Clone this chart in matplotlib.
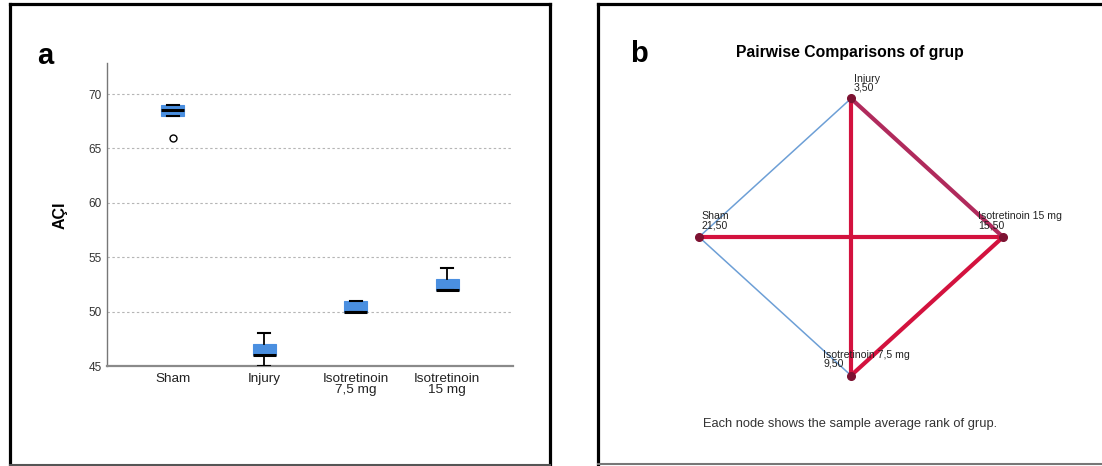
import matplotlib
matplotlib.use("Agg")

import numpy as np
import matplotlib.pyplot as plt
from matplotlib.lines import Line2D

plt.rcParams["font.family"] = ["Liberation Sans", "DejaVu Sans"]

# ---- panel a: box plot of angle per group ----
groups = ["Sham", "Injury", "Isotretinoin\n7,5 mg", "Isotretinoin\n15 mg"]
q1 = [68, 46, 50, 52]
medians = [68.5, 46, 50, 52]
q3 = [69, 47, 51, 53]
whisker_low = [68, 45, 50, 52]
whisker_high = [69, 48, 51, 54]
outliers = [[66], [], [], []]
y_ticks = [45, 50, 55, 60, 65, 70]

# ---- panel b: pairwise comparison network ----
node_names = ["Injury", "Isotretinoin 15 mg", "Isotretinoin 7,5 mg", "Sham"]
mean_ranks = [3.50, 15.50, 9.50, 21.50]
pair_a = ["Sham", "Sham", "Sham", "Injury", "Injury", "Isotretinoin 7,5 mg"]
pair_b = ["Injury", "Isotretinoin 7,5 mg", "Isotretinoin 15 mg",
          "Isotretinoin 7,5 mg", "Isotretinoin 15 mg", "Isotretinoin 15 mg"]
pair_significant = [False, False, True, True, True, True]

W, H = 1102, 466
fig = plt.figure(figsize=(W / 100, H / 100), dpi=100)


def px(x, y):
    return x / W, 1 - y / H


def frame_line(x0, y0, x1, y1, color="black", lw=2.3):
    (fx0, fy0), (fx1, fy1) = px(x0, y0), px(x1, y1)
    fig.add_artist(Line2D([fx0, fx1], [fy0, fy1], transform=fig.transFigure,
                          color=color, lw=lw, solid_capstyle="projecting"))


# panel frames
frame_line(10, 4, 550, 4)
frame_line(10, 4, 10, 465)
frame_line(550, 4, 550, 465)
frame_line(10, 465, 550, 465, color="#555555", lw=1.5)
frame_line(598, 4, 1102, 4)
frame_line(598, 4, 598, 464)
frame_line(598, 464, 1102, 464, color="#777777", lw=1.5)

# ===============================
# Panel a
# ===============================
x0, y0 = px(107, 366)
ax = fig.add_axes([x0, y0, 406 / W, 303 / H])

stats = []
for i in range(len(groups)):
    stats.append({
        "q1": q1[i], "med": medians[i], "q3": q3[i],
        "whislo": whisker_low[i], "whishi": whisker_high[i],
        "fliers": outliers[i],
    })

ax.bxp(
    stats,
    positions=range(len(groups)),
    widths=0.25,
    capwidths=0.13,
    patch_artist=True,
    boxprops=dict(facecolor="#4a8fe0", edgecolor="#4a8fe0", lw=0.8),
    medianprops=dict(color="black", lw=2.2),
    whiskerprops=dict(color="black", lw=1.3),
    capprops=dict(color="black", lw=1.5),
    flierprops=dict(marker="o", markerfacecolor="white", markeredgecolor="black",
                    markersize=5, markeredgewidth=1),
    zorder=3,
)

ax.set_xlim(-0.72, 3.72)
ax.set_ylim(45, 72.85)
ax.set_yticks(y_ticks)
ax.set_xticks(range(len(groups)))
ax.set_xticklabels(groups, fontsize=9.7, color="#222222", linespacing=0.85)
ax.tick_params(axis="y", length=0, pad=4, labelsize=8.5, labelcolor="#333333")
ax.tick_params(axis="x", length=0, pad=5)
ax.yaxis.grid(True, linestyle=(0, (2.2, 2.2)), color="#b5b5b5", lw=0.8)
ax.set_axisbelow(True)
for s in ["top", "right"]:
    ax.spines[s].set_visible(False)
ax.spines["left"].set_color("#777777")
ax.spines["left"].set_linewidth(1.0)
ax.spines["bottom"].set_color("#8a8a8a")
ax.spines["bottom"].set_linewidth(1.6)

fig.text(*px(60, 215), "AÇI", rotation=90, ha="center", va="center",
         fontsize=11.5, fontweight="bold")
fig.text(*px(45, 56), "a", ha="center", va="center", fontsize=21,
         fontweight="bold")

# ===============================
# Panel b
# ===============================
bx0, by0 = px(600, 460)
axb = fig.add_axes([bx0, by0, 500 / W, 450 / H])
axb.set_xlim(-251 / 152, 249 / 152)
axb.set_ylim(-223 / 138.5, 227 / 138.5)
axb.axis("off")

# nodes placed around a circle, starting at the top and going clockwise
angles = np.deg2rad(90 - 90 * np.arange(len(node_names)))
pos = {n: (np.cos(a), np.sin(a)) for n, a in zip(node_names, angles)}

for a, b, sig in zip(pair_a, pair_b, pair_significant):
    (xa, ya), (xb, yb) = pos[a], pos[b]
    if sig:
        color = "#b02a5c" if {a, b} == {"Injury", "Isotretinoin 15 mg"} else "#d3123e"
        axb.plot([xa, xb], [ya, yb], color=color, lw=3.0, zorder=2,
                 solid_capstyle="round")
    else:
        axb.plot([xa, xb], [ya, yb], color="#6d9fd6", lw=1.1, zorder=1)

label_offset = {
    "Injury": (2, 4),
    "Sham": (2, 5),
    "Isotretinoin 15 mg": (-18, 5),
    "Isotretinoin 7,5 mg": (-20, 5),
}
for name, rank in zip(node_names, mean_ranks):
    x, y = pos[name]
    axb.plot(x, y, "o", color="#7d1232", markersize=5.5, zorder=4)
    axb.annotate(f"{name}\n{rank:.2f}".replace(".", ","), (x, y),
                 xytext=label_offset[name], textcoords="offset points",
                 ha="left", va="bottom", fontsize=7.6, color="#222222",
                 linespacing=0.85, zorder=5)

fig.text(*px(850, 52), "Pairwise Comparisons of grup", ha="center",
         va="center", fontsize=11.3, fontweight="bold")
fig.text(*px(639, 54), "b", ha="center", va="center", fontsize=21,
         fontweight="bold")
fig.text(*px(850, 424), "Each node shows the sample average rank of grup.",
         ha="center", va="center", fontsize=9.3, color="#333333")

fig.savefig("out.png", dpi=100)
